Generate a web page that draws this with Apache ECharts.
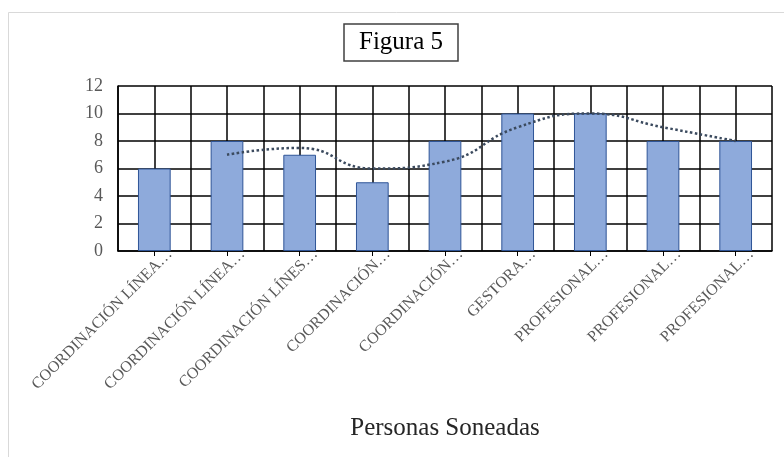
<!DOCTYPE html>
<html>
<head>
<meta charset="utf-8">
<style>html,body{margin:0;padding:0;background:#fff;}#chart{width:784px;height:457px;}</style>
<script src="https://cdn.jsdelivr.net/npm/echarts@6/dist/echarts.min.js"></script>
</head>
<body>
<div id="chart"></div>
<script>
const categories = ["COORDINACIÓN LÍNEA…", "COORDINACIÓN LÍNEA…", "COORDINACIÓN LÍNES…", "COORDINACIÓN…", "COORDINACIÓN…", "GESTORA…", "PROFESIONAL…", "PROFESIONAL…", "PROFESIONAL…"];
const values = [6, 8, 7, 5, 8, 10, 10, 8, 8];
const movingAverage = [null, 7, 7.5, 6, 6.5, 9, 10, 9, 8];
const halfColumns = ["a","b","c","d","e","f","g","h","i","j","k","l","m","n","o","p","q","r"];
const titleText = "Figura 5";
const axisTitle = "Personas Soneadas";

const serif = "'Liberation Serif', 'Times New Roman', serif";
const chart = echarts.init(document.getElementById('chart'), null, {renderer: 'canvas'});
chart.setOption({
  backgroundColor: '#fff',
  animation: false,
  graphic: [{
    type: 'rect', left: 8, top: 12, z: -10,
    shape: {width: 800, height: 460},
    style: {fill: '#fff', stroke: '#d9d9d9', lineWidth: 1}
  }],
  title: {
    text: titleText,
    left: 344, top: 24,
    padding: [6, 15, 6, 15],
    borderColor: '#404040', borderWidth: 1.5,
    textStyle: {fontFamily: serif, fontSize: 25, fontWeight: 'normal', color: '#000'}
  },
  grid: {left: 118, right: 12, top: 86, bottom: 206, containLabel: false},
  xAxis: [{
    type: 'category',
    data: categories,
    name: axisTitle,
    nameLocation: 'middle',
    nameGap: 165,
    nameTextStyle: {fontFamily: serif, fontSize: 25, color: '#262626'},
    axisLine: {show: true, lineStyle: {color: '#000', width: 1.5}},
    axisTick: {show: true, alignWithLabel: true, length: 5, lineStyle: {color: '#000'}},
    axisLabel: {rotate: 45, interval: 0, margin: -5, verticalAlign: 'top', padding: [7, -7, 0, 0],
      fontFamily: serif, fontSize: 16, color: '#595959'},
    splitLine: {show: false}
  }, {
    type: 'category',
    data: halfColumns,
    position: 'bottom',
    axisLine: {show: false},
    axisTick: {show: false},
    axisLabel: {show: false},
    splitLine: {show: true, interval: 0, lineStyle: {color: '#000', width: 1.5}}
  }],
  yAxis: {
    type: 'value',
    min: 0, max: 12, interval: 2,
    axisLine: {show: true, lineStyle: {color: '#000', width: 1.5}},
    axisTick: {show: false},
    axisLabel: {margin: 15, fontFamily: serif, fontSize: 18, color: '#595959'},
    splitLine: {show: true, lineStyle: {color: '#000', width: 1.5}}
  },
  series: [{
    type: 'bar',
    data: values,
    barWidth: '45%',
    itemStyle: {color: '#8EAADB', borderColor: '#2F5597', borderWidth: 1},
    z: 3
  }, {
    type: 'line',
    data: movingAverage,
    smooth: 0.5,
    symbol: 'none',
    connectNulls: false,
    lineStyle: {type: 'dotted', width: 2.5, color: '#3B4A5E'},
    z: 4
  }]
});
</script>
</body>
</html>
